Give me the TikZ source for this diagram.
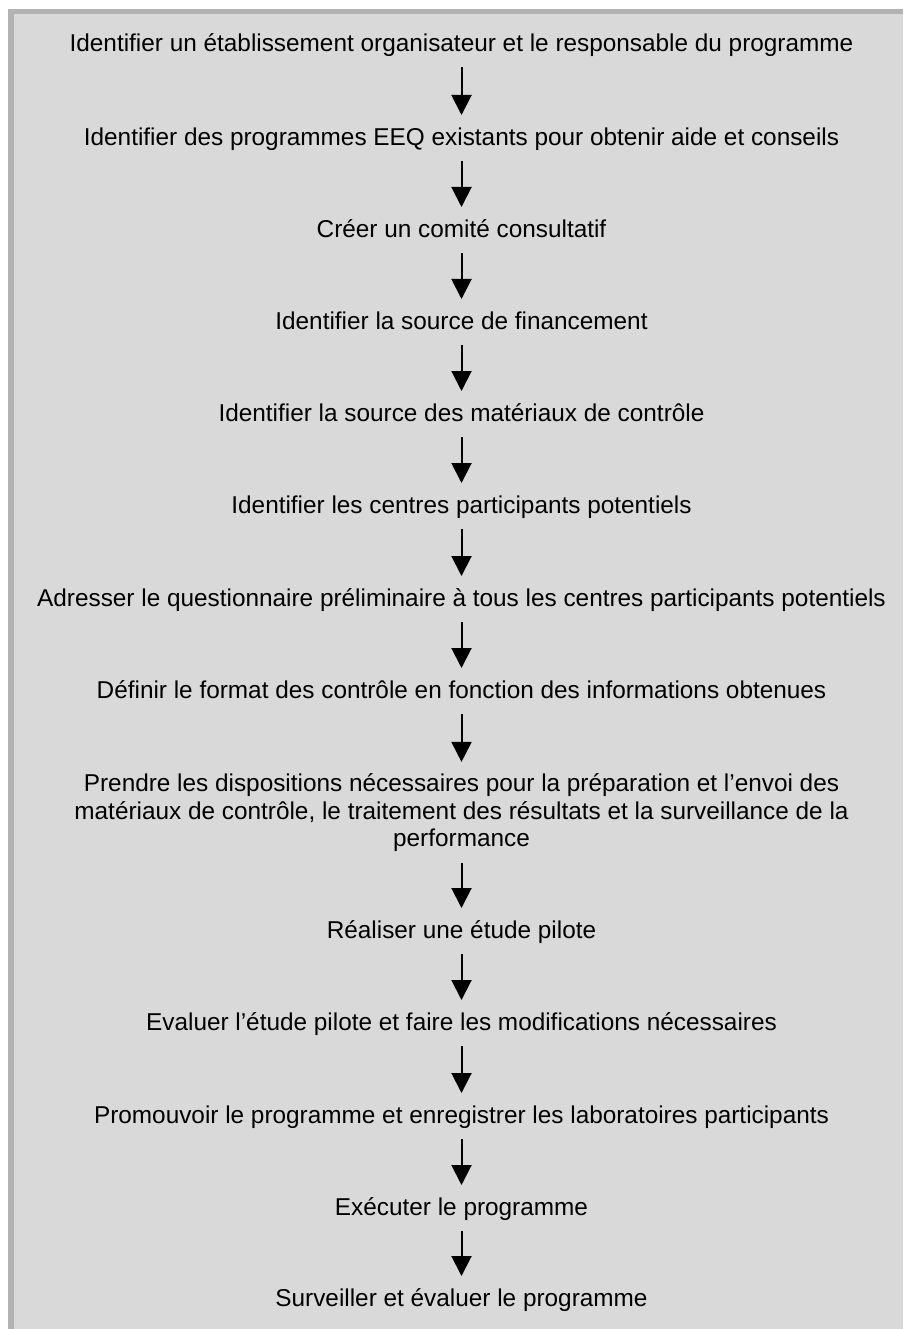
\documentclass[tikz,border=0pt]{standalone}
\usepackage{fontspec}
\setmainfont{Liberation Sans}
\usetikzlibrary{arrows.meta}
\definecolor{panel}{HTML}{D9D9D9}
\definecolor{edgegray}{HTML}{B3B3B3}
\begin{document}
\begin{tikzpicture}[x=1pt,y=-1pt,
  stepnode/.style={font=\fontsize{24.35}{27.5}\selectfont, inner sep=0pt, outer sep=0pt,
    text height=17pt, text depth=5pt, anchor=base},
  multinode/.style={font=\fontsize{24.35}{27.5}\selectfont, inner sep=0pt, outer sep=0pt,
    align=center, anchor=center},
  flow/.style={line width=2pt, -{Triangle[width=20pt,length=20pt]},
    shorten <=10.5pt, shorten >=13.5pt}]
\useasboundingbox (0,0) rectangle (903,1329);
\fill[white] (0,0) rectangle (903,1329);
\fill[edgegray] (8,9) rectangle (903,1329);
\fill[panel] (14,14) rectangle (903,1329);

\node[stepnode] (t1) at (461.5,51.5) {Identifier un établissement organisateur et le responsable du programme};
\node[stepnode] (t2) at (461.5,145.5) {Identifier des programmes EEQ existants pour obtenir aide et conseils};
\node[stepnode] (t3) at (461.5,237.5) {Créer un comité consultatif};
\node[stepnode] (t4) at (461.5,329.5) {Identifier la source de financement};
\node[stepnode] (t5) at (461.5,421.5) {Identifier la source des matériaux de contrôle};
\node[stepnode] (t6) at (461.5,513.5) {Identifier les centres participants potentiels};
\node[stepnode] (t7) at (461.5,606.5) {Adresser le questionnaire préliminaire à tous les centres participants potentiels};
\node[stepnode] (t8) at (461.5,698.5) {Définir le format des contrôle en fonction des informations obtenues};
\node[multinode] (t9) at (461.5,812.6) {Prendre les dispositions nécessaires pour la préparation et l’envoi des\\matériaux de contrôle, le traitement des résultats et la surveillance de la\\performance};
\node[stepnode] (t10) at (461.5,938.5) {Réaliser une étude pilote};
\node[stepnode] (t11) at (461.5,1030.5) {Evaluer l’étude pilote et faire les modifications nécessaires};
\node[stepnode] (t12) at (461.5,1123.5) {Promouvoir le programme et enregistrer les laboratoires participants};
\node[stepnode] (t13) at (461.5,1215.5) {Exécuter le programme};
\node[stepnode] (t14) at (461.5,1306.5) {Surveiller et évaluer le programme};

\draw[flow] (t1) -- (t2);
\draw[flow] (t2) -- (t3);
\draw[flow] (t3) -- (t4);
\draw[flow] (t4) -- (t5);
\draw[flow] (t5) -- (t6);
\draw[flow] (t6) -- (t7);
\draw[flow] (t7) -- (t8);
\draw[flow, shorten >=11.7pt] (t8) -- (t9);
\draw[flow, shorten <=11.4pt] (t9) -- (t10);
\draw[flow] (t10) -- (t11);
\draw[flow] (t11) -- (t12);
\draw[flow] (t12) -- (t13);
\draw[flow] (t13) -- (t14);
\end{tikzpicture}
\end{document}
